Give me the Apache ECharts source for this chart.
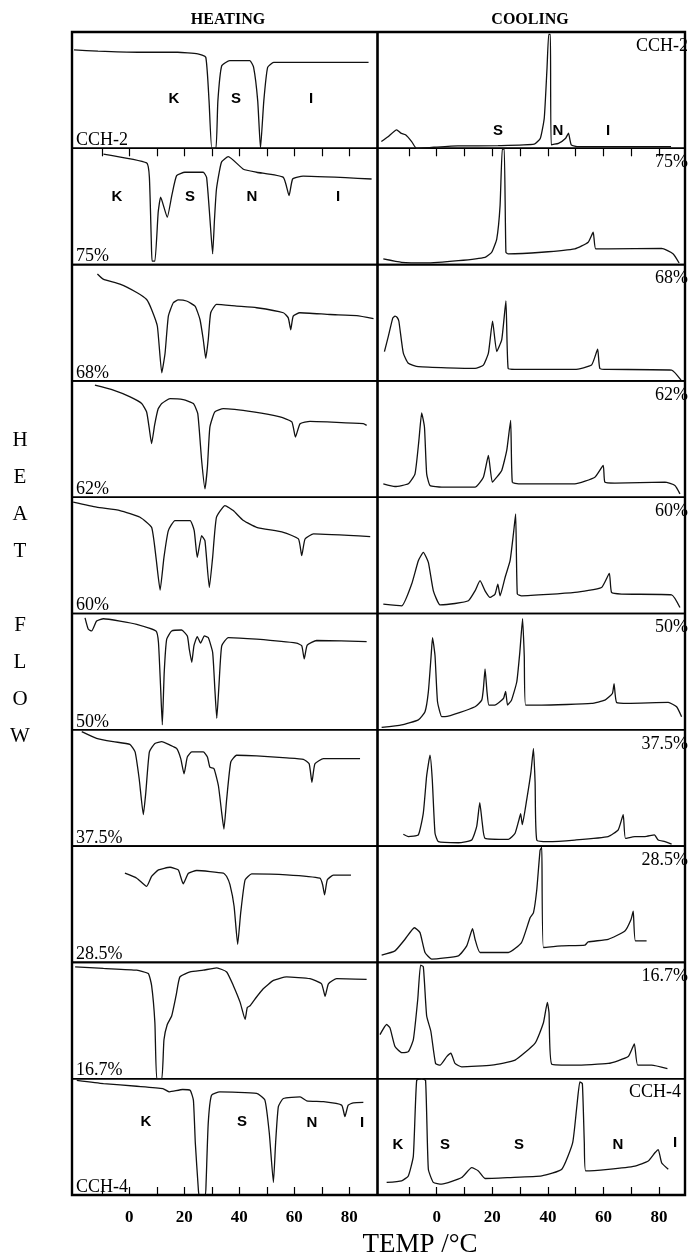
<!DOCTYPE html>
<html><head><meta charset="utf-8">
<script src="https://cdn.jsdelivr.net/npm/echarts@6/dist/echarts.min.js"></script>
<style>html,body{margin:0;padding:0;background:#fff}#c{width:689px;height:1260px}</style>
</head><body><div id="c"></div>
<script>
// ---------- data ----------
const rowLabels = ['CCH-2','75%','68%','62%','60%','50%','37.5%','28.5%','16.7%','CCH-4'];
const tickValues = [-10,0,10,20,30,40,50,60,70,80];
const tickLabels = [0,20,40,60,80];
const columnTitles = ['HEATING','COOLING'];
const axisTitle = 'TEMP /\u00B0C';
const yTitle = 'H\nE\nA\nT\n\nF\nL\nO\nW';

const heatCCH2 = [[-20.1,84.6],[-11.4,83.5],[3.1,82.6],[17.6,82.6],[24.9,81.2],[27.8,78.3],[29,40.6],[30,0],[31.5,0],[32.2,40.6],[33.6,71],[36.5,75.4],[43.8,75.4],[45.2,69.6],[46.7,40.6],[47.7,0],[48.9,40.6],[50.3,69.6],[52.5,73.9],[61.2,73.9],[87,73.9]];
const heat75 = [[-9.4,95],[6.3,87.4],[7.3,75],[8,20],[8.3,3],[9.3,3],[10.5,45],[11.4,58],[13.8,40.7],[15.5,60],[17.2,76.5],[20.2,79.4],[26.9,79.4],[28.1,75],[29.3,40],[30.3,9.2],[31,40],[31.7,65],[33.5,88],[36,92.8],[41.5,82],[46.3,79.4],[56,75],[58.1,59.3],[59.4,73.6],[63.2,76],[88.1,73.6]];
const heat68 = [[-11.6,91.9],[-9.5,87.5],[-3.4,83.2],[2.7,76],[6.3,70],[8.1,61.4],[10.2,47],[11.8,7],[13,23.8],[14.2,55.7],[16,67.2],[17.8,69.6],[20.8,68.7],[23.9,64.3],[25.7,52.8],[26.9,35.4],[27.8,19.4],[28.7,35.4],[29.6,58.6],[31.7,65.8],[39,64.3],[46.3,62.9],[56,58.6],[57.8,54.2],[58.7,44],[59.6,55.7],[62,58.6],[73,57.1],[82.7,56.2],[88.8,53.6]];
const heat62 = [[-12.5,96.3],[-5.8,92],[0.3,86.2],[4.5,80.5],[6.3,73.3],[7.2,60],[8.1,46],[9.2,62],[10.5,76],[11.8,80.5],[14.8,84.8],[19.6,83.9],[23.3,80.5],[24.9,71.8],[26.3,31.6],[27.5,7.2],[28.4,25.9],[29.3,60.3],[31.1,73.3],[34.2,76.1],[45.1,73.3],[54.8,69],[59.1,64.7],[60.4,51.7],[62.1,63.2],[65.7,65.2],[85.1,63.2],[86.3,61.8]];
const heat60 = [[-20.4,95.7],[-11.9,91.4],[-3.4,88.5],[3.9,82.8],[8.1,74.1],[9.7,48.3],[11.2,20.1],[12.6,48.3],[14.2,71.3],[16.6,79.9],[22.1,79.9],[23.6,71.3],[24.7,48.3],[26.3,67],[27.5,62.6],[29.1,22.4],[30.3,48.3],[31.7,82.8],[34.8,92.8],[37.8,88.5],[41.5,79.9],[46.3,74.1],[56,69.8],[61.5,64.1],[62.7,49.7],[63.9,64.1],[67,68.4],[87.6,66.1]];
const heat50 = [[-16.1,96.3],[-14.9,86.4],[-13.7,85],[-11.9,93.5],[-9.4,95.5],[-3.4,93.5],[2.7,90.7],[9.7,85],[10.6,75.1],[11.4,35.4],[12,4.2],[12.7,49.6],[13.6,77.9],[15.4,85],[19,85.8],[21.1,80.7],[21.8,69.4],[22.7,58.1],[23.5,72.2],[24.7,80.2],[25.9,74.5],[27.3,80.7],[28.7,79.3],[30.3,66.6],[31.1,35.4],[31.8,9.9],[32.6,38.2],[33.6,72.2],[36,79.3],[46.3,77.9],[60.8,74.5],[62.7,72.2],[63.6,60.9],[64.7,72.8],[68.1,76.8],[86.3,75.9]];
const heat37 = [[-17.3,98.5],[-11.9,92.7],[-5.8,89.8],[0.2,87.5],[2.1,81],[3.6,57.7],[5.1,27.1],[6,46.1],[7.3,81],[9.3,88.3],[11.8,89.8],[14.8,86.9],[17.2,84],[18.7,75.2],[19.9,62.1],[21.1,76.7],[22.7,81],[26.9,81],[28.4,76.7],[29.3,67.9],[30.8,66.5],[32.4,51.9],[33.6,28.6],[34.4,14.6],[35.4,40.2],[36.9,72.3],[39,78.1],[46.3,77.6],[57.2,75.8],[63.3,74.6],[65.4,70.8],[66.4,54.8],[67.5,70.8],[70.6,75.2],[83.9,75.2]];
const heat28 = [[-1.6,76.7],[2.7,72.4],[6.3,65.3],[8.1,73.9],[10.6,79.5],[14.8,81.8],[17.8,79.5],[19.6,67.6],[21.5,76.7],[24.5,79],[34.2,76.7],[35.4,73.9],[36.6,66.8],[38.1,48.3],[39.4,15.6],[40.5,42.6],[42.1,71],[44.5,76.1],[57.2,75.3],[69.3,72.4],[70.3,66.8],[71,58],[72,71],[74.2,75],[80.6,75]];
const heat16 = [[-19.7,96.2],[-9.4,94.8],[2.7,93.3],[6.9,90.4],[8.1,80.2],[9.3,48.1],[10,0],[11.8,0],[12.6,33.5],[13.8,46.6],[15.4,53.9],[17,71.4],[18.4,87.5],[22.1,91.8],[26.9,93.3],[31.8,95.3],[35.4,91.8],[37.8,80.2],[40.3,65.6],[42.1,51],[42.9,61.2],[43.9,62.7],[45.7,68.5],[48.7,77.3],[52.4,84.5],[57.2,87.5],[65.7,86],[69.9,81.6],[71.2,70.8],[72.4,81.6],[75.4,86],[86.3,85.4]];
const heatCCH4 = [[-19.1,98.6],[-9.4,95.8],[2.7,93.5],[12.2,91.5],[14.6,88.7],[19.4,90.7],[22.1,90.1],[23.3,81.6],[24,44.8],[25.1,5],[25.4,0],[27.6,0],[27.9,9.3],[28.7,61.8],[29.9,85.8],[32.9,88.7],[46.3,87.3],[49.3,81.6],[50.9,53.3],[52.4,10.8],[53.2,44.8],[54.2,75.9],[56,83],[62.1,84.4],[64.5,81],[70.6,80.2],[77.2,77.3],[78.4,67.4],[79.6,77.3],[81.5,79.3],[85.1,79.6]];

const coolCCH2 = [[-19.9,5.8],[-17.5,10],[-14.4,15.9],[-12.9,13],[-11.2,11.6],[-9,5.8],[-7.3,0],[-1,0.9],[7.6,2],[22.1,2.3],[35.1,3.5],[37.3,8.7],[38.7,26.1],[39.7,69.6],[40.3,98],[40.9,98],[41.2,3],[43.8,4.3],[46.4,8.7],[47.4,13],[48.4,3],[51,1.4],[84.3,1.4]];
const cool75 = [[-19.2,4.9],[-12.6,2],[-4.2,1.4],[7.8,3.4],[17.4,6.3],[19.8,10.6],[21.6,22],[22.8,50.7],[23.6,99.4],[24.3,99.4],[24.9,10.6],[25.7,9.2],[37.8,10.6],[49.7,13.5],[54.5,19.2],[56.3,27.8],[57.2,13.5],[61.7,13.5],[80.9,14],[85.1,9.2],[87.2,1.4]];
const cool68 = [[-18.8,25.2],[-17.4,38.3],[-15.8,54],[-15,55.7],[-14.2,54.5],[-13.6,51.3],[-12,23.8],[-10.2,15.1],[-6.6,12.2],[13.8,10.7],[16.8,13.6],[18.6,23.8],[20.1,51.3],[21.6,25.2],[23.4,35.4],[24.9,68.7],[25.7,10.7],[28.1,9.9],[49.7,9.9],[55.7,13.6],[57.9,27.2],[58.7,10.7],[61.7,9.9],[84.5,9.3],[87.9,0.6]];
const cool62 = [[-19.2,11.5],[-15,9.2],[-10.2,11.5],[-7.8,20.1],[-6.4,48.9],[-5.4,72.4],[-4.4,60.3],[-3.6,20.1],[-2.4,10.1],[1.8,8.6],[13.8,8.6],[16.8,17.2],[18.6,35.9],[20,12.9],[21.6,17.2],[23.4,23],[25.2,40.2],[26.6,66.1],[27.2,12.9],[29.4,11.5],[49.7,11.5],[56.9,17.2],[59.9,27.3],[60.5,12.9],[64.1,12.1],[82.1,12.9],[85.7,10.1],[87.5,2.9]];
const cool60 = [[-19.2,8],[-12.6,6.6],[-9,25.3],[-6.6,45.4],[-4.8,52.6],[-3,44],[-1.2,19.5],[1.2,7.5],[6.6,8.6],[11.4,10.9],[13.8,19.5],[15.6,28.2],[17.4,19.5],[19.2,13.8],[21,16.7],[22,25.3],[22.8,15.2],[24.6,31],[26.4,45.4],[27.6,68.4],[28.4,85.6],[29,16.7],[30.5,15.2],[49.7,18.1],[59.3,22.4],[62.1,34.5],[62.9,18.1],[66.5,16.7],[84.5,16.1],[87.5,5.2]];
const cool50 = [[-19.8,2],[-12.6,4.2],[-6.6,8.5],[-4.2,15.6],[-3,32.6],[-2,63.7],[-1.5,79.3],[-0.6,63.7],[0.3,24.1],[1.8,11.3],[3,11.3],[13.8,19.8],[16.2,25.5],[16.8,35.4],[17.4,52.4],[18.1,32.6],[18.8,21.2],[20.9,21.2],[24,26.9],[24.8,33.1],[25.5,21.2],[26.9,25.5],[28.8,41.1],[29.9,66.6],[30.9,95.5],[31.5,63.7],[32,21.2],[37.8,21.2],[55.7,22.7],[60.5,25.5],[63.2,31.2],[63.8,39.7],[64.7,23.5],[68.9,22.7],[83.3,23.5],[86.3,19.8],[88.1,11.3]];
const cool37 = [[-12,10.2],[-10.2,8.2],[-6.6,9.6],[-4.8,28.6],[-3.6,60.6],[-2.4,78.1],[-1.6,57.7],[-0.6,11.1],[0.6,3.8],[7.8,2.9],[12.6,5.2],[14.4,16.9],[15.5,37.3],[16.4,19.8],[17.4,6.7],[25.8,5.8],[28.2,11.1],[29.6,22.7],[30.2,28],[30.8,18.4],[32.4,40.2],[33.9,63.6],[34.8,84],[35.4,54.8],[36,5.2],[40.1,3.8],[49.7,5.2],[61.7,8.2],[65.3,14],[67.1,27.1],[67.9,6.7],[71.3,8.2],[74.9,8.2],[78.3,9.6],[79.7,5.2],[82.1,3.8],[84.5,1.7]];
const cool28 = [[-19.8,6.3],[-15,9.9],[-11.4,19.9],[-8,29.8],[-6,25.6],[-4.2,8.5],[-1.8,2.8],[7.8,5.7],[10.8,14.2],[12.9,29],[13.8,19.9],[15.6,8.5],[25.8,8.5],[30.5,17],[33.6,38.4],[34.8,42.6],[36,62.5],[37.2,96.6],[37.8,99],[38.4,12.8],[45,14.2],[53.3,14.8],[54.5,17.6],[61.7,19.9],[67.7,27],[69.9,36.9],[70.7,44],[71.5,18.5],[75.5,18.5]];
const cool16 = [[-20.4,37.9],[-18,46.6],[-16.8,43.7],[-15,27.7],[-12.6,22.4],[-10.2,23.3],[-8.4,33.5],[-6.8,68.5],[-5.8,97.7],[-4.8,96.2],[-3.6,53.9],[-2.1,40.8],[-0.4,13.1],[1.2,11.7],[3.6,19],[5.1,21.9],[6.6,13.1],[9,10.2],[19.8,11.7],[28.2,16],[35.4,30.6],[38.4,48.1],[39.8,65.6],[40.4,56.9],[41.4,12.5],[49.7,11.7],[61.7,13.1],[68.9,19],[71.1,30],[72.3,11.7],[77.3,11.7],[83,8.7]];
const coolCCH4 = [[-18,10.8],[-12.6,12.2],[-10.2,16.4],[-8.4,33.4],[-7.2,98.6],[-5.4,100],[-4,98.6],[-3,22.1],[-1.2,10.8],[1.8,9.3],[9,15],[12.6,23.5],[15,20.7],[17.4,14.2],[25.8,15],[37.8,16.4],[45,22.1],[48.9,44.8],[50.4,75.9],[51.5,97.2],[52.4,95.8],[53.1,44.8],[53.6,20.7],[61.7,22.1],[71.3,24.9],[76.1,29.2],[78.5,36.3],[79.7,39.1],[80.9,27.8],[83.3,22.1]];

const heating = [heatCCH2, heat75, heat68, heat62, heat60, heat50, heat37, heat28, heat16, heatCCH4];
const cooling = [coolCCH2, cool75, cool68, cool62, cool60, cool50, cool37, cool28, cool16, coolCCH4];

// phase letters: text per panel
const phaseTexts = [
  {row:0, col:0, text:'K'}, {row:0, col:0, text:'S'}, {row:0, col:0, text:'I'},
  {row:0, col:1, text:'S'}, {row:0, col:1, text:'N'}, {row:0, col:1, text:'I'},
  {row:1, col:0, text:'K'}, {row:1, col:0, text:'S'}, {row:1, col:0, text:'N'}, {row:1, col:0, text:'I'},
  {row:9, col:0, text:'K'}, {row:9, col:0, text:'S'}, {row:9, col:0, text:'N'}, {row:9, col:0, text:'I'},
  {row:9, col:1, text:'K'}, {row:9, col:1, text:'S'}, {row:9, col:1, text:'S'}, {row:9, col:1, text:'N'}, {row:9, col:1, text:'I'}
];

// ---------- layout (pixels) ----------
const phasePos = [[174,99],[236,99],[311,99],[498,131],[558,131],[608,131],
  [117,197],[190,197],[252,197],[338,197],
  [146,1122],[242,1122],[312,1123],[362,1123],
  [398,1145],[445,1145],[519,1145],[618,1145],[675,1143]];
const TOP = 32, ROWH = 116.3;
const LEFT_L = 72, W_L = 305.5, LEFT_R = 377.5, W_R = 307.5;
const XR_L = [-20.84, 90.25], XR_R = [-21.29, 89.32];
const SERIF = '"Liberation Serif","Times New Roman",serif';
const SANS = '"Liberation Sans",Arial,sans-serif';

const grids = [], xAxes = [], yAxes = [], series = [], graphics = [];
for (let r = 0; r < 10; r++) {
  for (let c = 0; c < 2; c++) {
    const idx = r * 2 + c;
    grids.push({left: c ? LEFT_R : LEFT_L, top: TOP + r * ROWH, width: c ? W_R : W_L, height: ROWH,
      show: true, borderColor: '#000', borderWidth: 1.6, backgroundColor: 'transparent', containLabel: false});
    const xr = c ? XR_R : XR_L;
    const edge = (r === 0 || r === 9);
    xAxes.push({gridIndex: idx, type: 'value', min: xr[0], max: xr[1],
      position: r === 0 ? 'top' : 'bottom',
      axisLine: {show: false}, splitLine: {show: false},
      axisTick: {show: edge, inside: true, length: 8, customValues: tickValues, lineStyle: {color: '#000', width: 1.2}},
      axisLabel: {show: r === 9, customValues: tickLabels, margin: 14, color: '#000',
        fontFamily: SERIF, fontSize: 17, fontWeight: 'bold'}});
    yAxes.push({gridIndex: idx, type: 'value', min: 0, max: 100, show: false});
    series.push({type: 'line', xAxisIndex: idx, yAxisIndex: idx,
      data: c ? cooling[r] : heating[r], showSymbol: false, symbol: 'none',
      smooth: 0.15, lineStyle: {color: '#111', width: 1.3}, silent: true, clip: true, animation: false});
  }
  const top = TOP + r * ROWH, bottom = top + ROWH;
  graphics.push({type: 'text', x: 76, y: bottom + 1, z: 10,
    style: {text: rowLabels[r], font: '18px ' + SERIF, fill: '#000', align: 'left', verticalAlign: 'bottom'}});
  graphics.push({type: 'text', x: r === 9 ? 681 : 688, y: top + 5, z: 10,
    style: {text: rowLabels[r], font: '18px ' + SERIF, fill: '#000', align: 'right', verticalAlign: 'top'}});
}
phaseTexts.forEach((p, i) => {
  graphics.push({type: 'text', x: phasePos[i][0], y: phasePos[i][1], z: 10,
    style: {text: p.text, font: 'bold 15px ' + SANS, fill: '#000', align: 'center', verticalAlign: 'middle'}});
});
graphics.push({type: 'text', x: 228, y: 20, style: {text: columnTitles[0], font: 'bold 16px ' + SERIF, fill: '#000', align: 'center', verticalAlign: 'middle'}});
graphics.push({type: 'text', x: 530, y: 20, style: {text: columnTitles[1], font: 'bold 16px ' + SERIF, fill: '#000', align: 'center', verticalAlign: 'middle'}});
graphics.push({type: 'text', x: 420, y: 1245, style: {text: axisTitle, font: '27px ' + SERIF, fill: '#000', align: 'center', verticalAlign: 'middle'}});
graphics.push({type: 'text', x: 20, y: 422, style: {text: yTitle, font: '21px ' + SERIF, fill: '#000', align: 'center', verticalAlign: 'top', lineHeight: 37}});
graphics.push({type: 'rect', shape: {x: LEFT_L, y: TOP, width: LEFT_R + W_R - LEFT_L, height: ROWH * 10}, z: 20,
  style: {fill: 'none', stroke: '#000', lineWidth: 2.4}});
graphics.push({type: 'line', shape: {x1: LEFT_R, y1: TOP, x2: LEFT_R, y2: TOP + ROWH * 10}, z: 20,
  style: {stroke: '#000', lineWidth: 2.2}});

const chart = echarts.init(document.getElementById('c'), null, {renderer: 'canvas'});
chart.setOption({animation: false, backgroundColor: '#fff', grid: grids, xAxis: xAxes, yAxis: yAxes, series: series, graphic: graphics});
</script></body></html>
